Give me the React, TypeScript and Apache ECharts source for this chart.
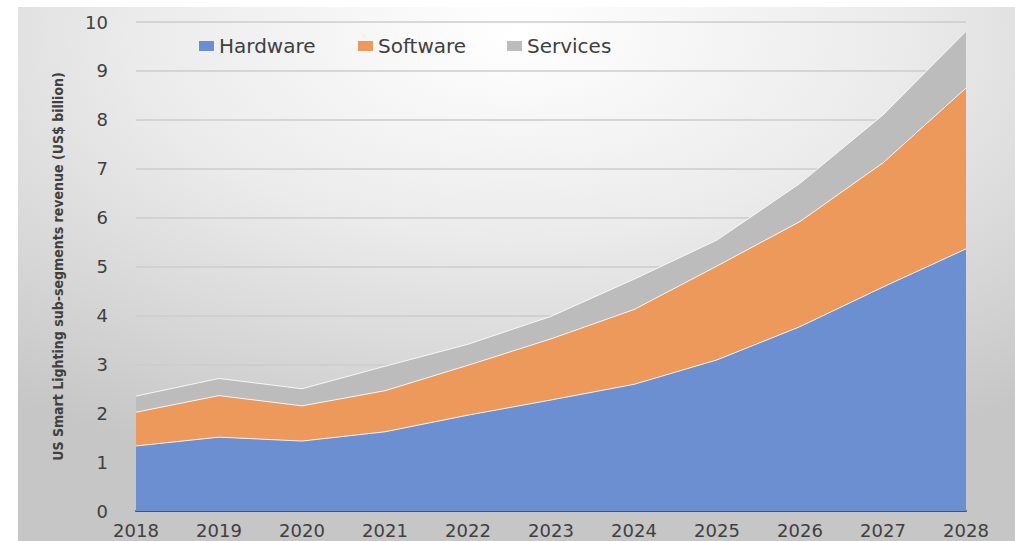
import React, { useEffect, useRef } from "react";
import * as echarts from "echarts";

const years = ["2018", "2019", "2020", "2021", "2022", "2023", "2024", "2025", "2026", "2027", "2028"];
const hardware = [1.33, 1.51, 1.43, 1.62, 1.96, 2.27, 2.59, 3.09, 3.77, 4.58, 5.36];
const software = [0.69, 0.85, 0.72, 0.84, 1.02, 1.25, 1.53, 1.92, 2.15, 2.54, 3.29];
const services = [0.33, 0.35, 0.35, 0.5, 0.43, 0.46, 0.62, 0.53, 0.78, 0.98, 1.16];
const seriesNames = ["Hardware", "Software", "Services"];
const colors = ["#6b8fd0", "#ee995c", "#bcbcbc"];

export default function App() {
  const ref = useRef<HTMLDivElement>(null);
  useEffect(() => {
    document.body.style.margin = "0";
    const chart = echarts.init(ref.current!, undefined, { renderer: "svg" });
    const values = [hardware, software, services];
    const legendLefts = [199, 358, 507];
    chart.setOption({
      animation: false,
      graphic: [
        {
          type: "rect",
          z: -100,
          silent: true,
          shape: { x: 18, y: 7, width: 997, height: 534 },
          style: {
            fill: new echarts.graphic.RadialGradient(0.5, 0.05, 0.85, [
              { offset: 0, color: "#ffffff" },
              { offset: 0.45, color: "#ebebeb" },
              { offset: 1, color: "#c6c6c6" },
            ]),
          },
        },
      ],
      legend: seriesNames.map((n, i) => ({
        data: [n],
        left: legendLefts[i],
        top: 36,
        padding: 0,
        itemWidth: 15,
        itemHeight: 10,
        itemGap: 0,
        icon: "rect",
        textStyle: { fontFamily: "DejaVu Sans", fontSize: 20, color: "#404040" },
      })),
      grid: { left: 136, right: 49, top: 22, bottom: 30, containLabel: false },
      xAxis: {
        type: "category",
        data: years,
        boundaryGap: false,
        axisLine: { show: true, lineStyle: { color: "#44546a", width: 2 } },
        axisTick: { show: false },
        axisLabel: { fontFamily: "DejaVu Sans", fontSize: 18, color: "#404040", margin: 10 },
        splitLine: { show: false },
      },
      yAxis: {
        type: "value",
        min: 0,
        max: 10,
        interval: 1,
        name: "US Smart Lighting sub-segments revenue (US$ billion)",
        nameLocation: "middle",
        nameGap: 71,
        nameRotate: 90,
        nameTextStyle: {
          fontFamily: "'DejaVu Sans Condensed', 'Liberation Sans', sans-serif",
          fontWeight: "bold",
          fontSize: 14,
          color: "#404040",
        },
        axisLine: { show: false },
        axisTick: { show: false },
        axisLabel: { fontFamily: "DejaVu Sans", fontSize: 18, color: "#404040", margin: 28 },
        splitLine: { show: true, lineStyle: { color: "#cdcdcd", width: 1.5 } },
      },
      series: seriesNames.map((n, i) => ({
        name: n,
        type: "line",
        stack: "total",
        data: values[i],
        symbol: "none",
        itemStyle: { color: colors[i] },
        lineStyle: { color: "#ffffff", width: 1, opacity: 0.85 },
        areaStyle: { color: colors[i], opacity: 1 },
      })),
    });
    return () => chart.dispose();
  }, []);
  return <div ref={ref} style={{ width: 1015, height: 541 }} />;
}
